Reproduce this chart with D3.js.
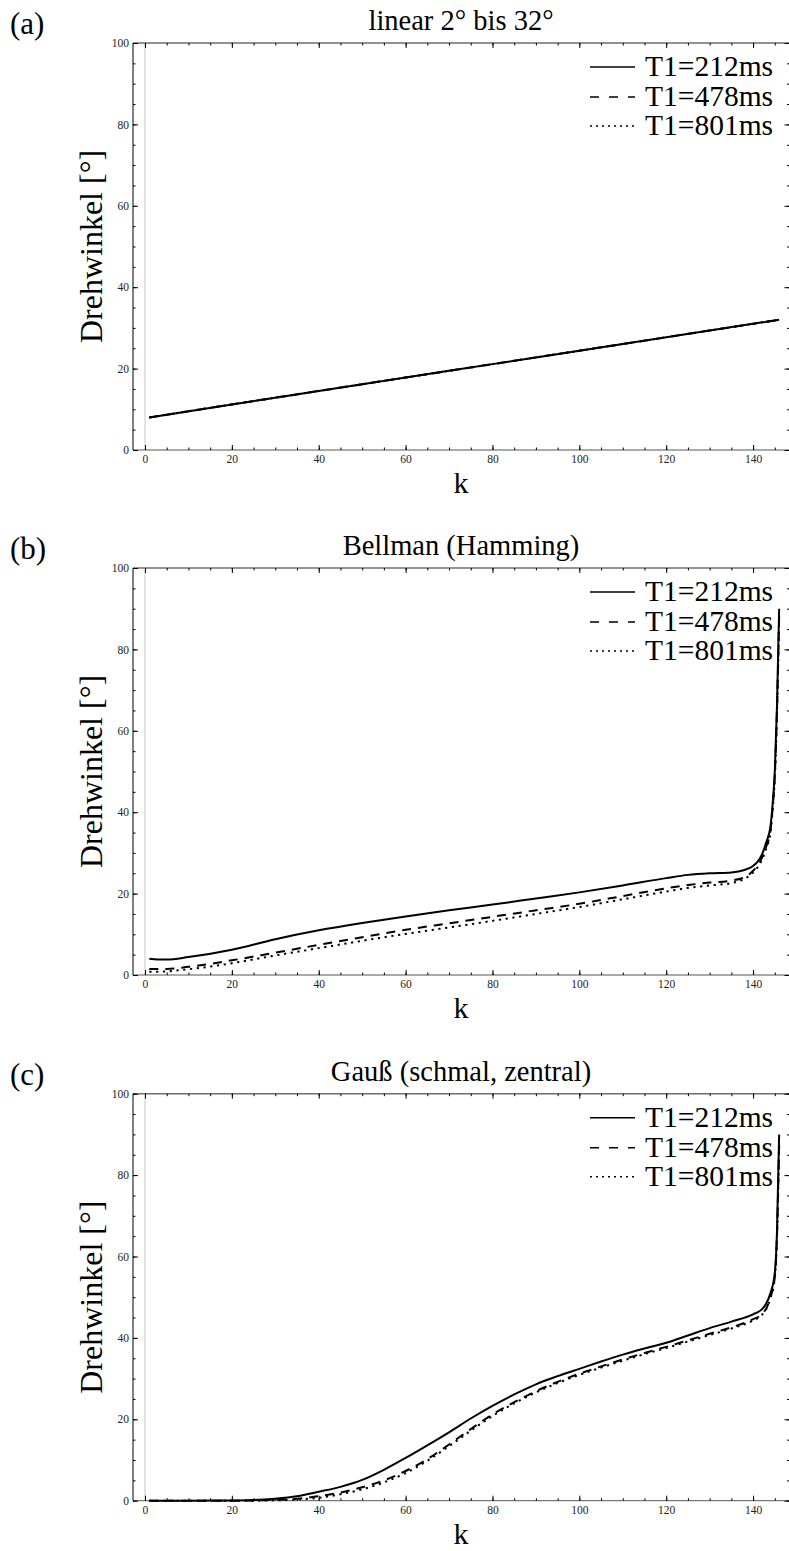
<!DOCTYPE html>
<html><head><meta charset="utf-8">
<script src="https://cdn.jsdelivr.net/npm/d3@7"></script>
<style>
body{margin:0;background:#fff;}
svg{display:block;}
svg text{font-family:"Liberation Serif","Times New Roman",Times,serif;}
</style></head>
<body>
<script>
// ---------- data ----------
const seriesNames = ["T1=212ms","T1=478ms","T1=801ms"];
const panelLetters = ["(a)","(b)","(c)"];
const panelTitles = ["linear 2° bis 32°","Bellman (Hamming)","Gauß (schmal, zentral)"];
const xTickValues = [0,20,40,60,80,100,120,140];
const yTickValues = [0,20,40,60,80,100];

// panel (a): linear
const kA = [1,20,40,60,80,100,120,146];
const a212 = [8.0,11.2,14.5,17.8,21.1,24.4,27.7,32.0];
const a478 = [8.0,11.2,14.5,17.8,21.1,24.4,27.7,32.0];
const a801 = [8.0,11.2,14.5,17.8,21.1,24.4,27.7,32.0];

// panel (b): Bellman (Hamming)
const kB = [1,3,5,10,20,30,40,50,60,70,80,90,100,110,120,125,130,135,138,140,141,142,143,144,144.5,145,145.5,146];
const b212 = [4.0,3.8,3.8,4.4,6.2,8.8,11.0,12.8,14.4,15.9,17.3,18.8,20.3,22.0,23.8,24.6,25.0,25.2,25.8,26.8,27.8,29.5,32.5,36.5,42,50,66,90];
const b478 = [1.5,1.5,1.5,2.0,3.6,5.5,7.4,9.3,11.1,12.7,14.3,15.9,17.5,19.4,21.3,22.1,22.7,23.2,24.0,25.6,26.8,28.7,31.5,35.5,41,49,65,88];
const b801 = [0.8,0.8,0.9,1.4,2.9,4.8,6.6,8.4,10.1,11.7,13.3,15.0,16.7,18.6,20.5,21.4,22.0,22.6,23.6,25.2,26.4,28.2,31.0,35.0,40.5,48.5,64,87];

// panel (c): Gauss (schmal, zentral)
const kC = [1,10,20,25,30,35,40,45,50,55,60,65,70,75,80,85,90,95,100,105,110,115,120,125,130,135,140,142,143,144,145,145.5,146];
const c212 = [0,0,0.05,0.15,0.5,1.1,2.2,3.4,5.1,7.6,10.5,13.6,16.8,20.2,23.3,26.1,28.6,30.6,32.4,34.2,35.9,37.4,38.8,40.6,42.4,44.0,45.8,47.0,48.4,51,56,66,90];
const c478 = [0,0,0,0.05,0.2,0.5,1.1,2.0,3.3,5.0,7.3,10.2,13.8,17.6,21.2,24.2,26.9,29.2,31.2,33.0,34.7,36.3,37.8,39.4,41.0,42.6,44.6,45.8,47.2,50,55,65,88];
const c801 = [0,0,0,0,0.1,0.3,0.7,1.6,2.8,4.5,6.8,9.8,13.4,17.2,20.8,23.9,26.6,28.9,30.9,32.7,34.4,36.0,37.5,39.1,40.7,42.3,44.3,45.6,47.0,49.8,54.8,64.5,87];

const panels = [
  {k:kA, series:[a212,a478,a801]},
  {k:kB, series:[b212,b478,b801]},
  {k:kC, series:[c212,c478,c801]}
];

// ---------- layout ----------
const W = 789, H = 1551;
const FONT = "Liberation Serif, Times New Roman, Times, serif";
const svg = d3.select("body").append("svg").attr("width",W).attr("height",H);
const plotLeft = 133, plotRight = 790, plotH = 407;
const panelBottoms = [450, 975, 1500.7];
const dashes = [null, "9,7", "2.2,4.6"];

const x = d3.scaleLinear().domain([-2.76,148.5]).range([plotLeft,plotRight]);
const minorX = d3.range(0,146,5);
const minorY = d3.range(0,101,5);

panels.forEach((p,i)=>{
  const bottom = panelBottoms[i], top = bottom - plotH;
  const y = d3.scaleLinear().domain([0,100]).range([bottom,top]);
  const g = svg.append("g");

  // vertical gray line at k=0
  g.append("line").attr("x1",x(0)).attr("x2",x(0)).attr("y1",top).attr("y2",bottom)
    .attr("stroke","#c8c8c8").attr("stroke-width",1);

  // frame: top and right (gray)
  g.append("line").attr("x1",plotLeft).attr("x2",plotRight).attr("y1",top).attr("y2",top)
    .attr("stroke","#6e6e6e").attr("stroke-width",1.6);
  g.append("line").attr("x1",plotRight-0.5).attr("x2",plotRight-0.5).attr("y1",top).attr("y2",bottom)
    .attr("stroke","#6e6e6e").attr("stroke-width",1);

  // bottom axis
  const xb = g.append("g").attr("transform",`translate(0,${bottom})`)
    .call(d3.axisBottom(x).tickValues(xTickValues).tickSize(-5).tickSizeOuter(0).tickPadding(5).tickFormat(d3.format("d")));
  xb.attr("font-family",FONT).attr("font-size",11.5);
  xb.select(".domain").attr("stroke","#555").attr("d",`M${plotLeft},0H${plotRight}`);
  xb.selectAll("text").attr("fill","#222");
  g.append("g").attr("transform",`translate(0,${bottom})`)
    .call(d3.axisBottom(x).tickValues(minorX).tickSize(-2.5).tickSizeOuter(0).tickFormat(""))
    .select(".domain").remove();
  // top axis ticks
  g.append("g").attr("transform",`translate(0,${top})`)
    .call(d3.axisTop(x).tickValues(xTickValues).tickSize(-5).tickSizeOuter(0).tickFormat(""))
    .select(".domain").remove();
  g.append("g").attr("transform",`translate(0,${top})`)
    .call(d3.axisTop(x).tickValues(minorX).tickSize(-2.5).tickSizeOuter(0).tickFormat(""))
    .select(".domain").remove();

  // left axis
  const yl = g.append("g").attr("transform",`translate(${plotLeft},0)`)
    .call(d3.axisLeft(y).tickValues(yTickValues).tickSize(-5).tickSizeOuter(0).tickPadding(4).tickFormat(d3.format("d")));
  yl.attr("font-family",FONT).attr("font-size",11.5);
  yl.select(".domain").attr("stroke","#000").attr("d",`M0,${bottom}V${top}`);
  yl.selectAll("text").attr("fill","#222");
  g.append("g").attr("transform",`translate(${plotLeft},0)`)
    .call(d3.axisLeft(y).tickValues(minorY).tickSize(-2.5).tickSizeOuter(0).tickFormat(""))
    .select(".domain").remove();
  // right axis ticks
  g.append("g").attr("transform",`translate(${plotRight-0.5},0)`)
    .call(d3.axisRight(y).tickValues(yTickValues).tickSize(-5).tickSizeOuter(0).tickFormat(""))
    .select(".domain").remove();
  g.append("g").attr("transform",`translate(${plotRight-0.5},0)`)
    .call(d3.axisRight(y).tickValues(minorY).tickSize(-2.5).tickSizeOuter(0).tickFormat(""))
    .select(".domain").remove();

  // curves
  const line = d3.line().x(d=>x(d[0])).y(d=>y(d[1])).curve(d3.curveMonotoneX);
  p.series.forEach((vals,si)=>{
    const pts = p.k.map((kk,j)=>[kk,vals[j]]);
    g.append("path").attr("d",line(pts)).attr("fill","none").attr("stroke","#000")
      .attr("stroke-width",2).attr("stroke-dasharray",dashes[si]);
  });

  // legend
  const legRows = [top+33, top+63, top+92];
  seriesNames.forEach((nm,si)=>{
    const by = legRows[si];
    g.append("line").attr("x1",590).attr("x2",635).attr("y1",by-9).attr("y2",by-9)
      .attr("stroke","#000").attr("stroke-width",1.6).attr("stroke-dasharray",si===0?null:(si===1?"9,10":"2,4"));
    g.append("text").attr("x",645).attr("y",by).attr("font-family",FONT).attr("font-size",29.5).attr("fill","#000").text(nm);
  });

  // title
  g.append("text").attr("x",461).attr("y",top-13).attr("text-anchor","middle").attr("font-family",FONT)
    .attr("font-size",28.5).attr("fill","#000").text(panelTitles[i]);
  // letter
  g.append("text").attr("x",10).attr("y",top-9).attr("font-family",FONT).attr("font-size",31).attr("fill","#000").text(panelLetters[i]);
  // y label
  g.append("text").attr("transform",`translate(102,${(top+bottom)/2}) rotate(-90)`).attr("font-family",FONT)
    .attr("text-anchor","middle").attr("font-size",32).attr("fill","#000").text("Drehwinkel [°]");
  // x label
  g.append("text").attr("x",461).attr("y",bottom+43).attr("text-anchor","middle").attr("font-family",FONT)
    .attr("font-size",30).attr("fill","#000").text("k");
});
</script>
</body></html>
